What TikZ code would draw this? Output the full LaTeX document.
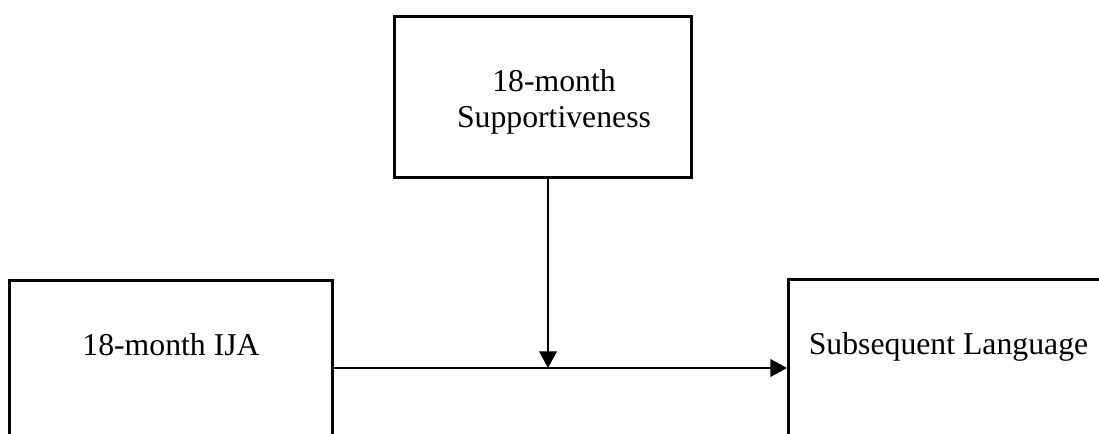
\documentclass[tikz,border=0pt]{standalone}
\usepackage{fontspec}
\setmainfont{Liberation Serif}
\usetikzlibrary{arrows.meta}
\begin{document}
\begin{tikzpicture}[x=0.75pt,y=-0.75pt,
  boxshape/.style={draw=black,line width=2.2pt,rectangle,inner sep=0pt,anchor=north west},
  lbl/.style={inner sep=0pt,anchor=base,font=\fontsize{23.8}{27}\selectfont},
  conn/.style={line width=2.2pt,-{Triangle[length=12.5pt,width=13pt]}}]
\useasboundingbox (0,0) rectangle (1099,434);
\clip (0,0) rectangle (1099,434);
% boxes
\node[boxshape,minimum width=297*0.75pt,minimum height=161*0.75pt] (sup) at (393,15) {};
\node[boxshape,minimum width=323*0.75pt,minimum height=200*0.75pt] (ija) at (8,279) {};
\node[boxshape,minimum width=340*0.75pt,minimum height=200*0.75pt] (lang) at (787,278) {};
% texts
\node[lbl] (supa) at (554,92) {18-month};
\node[lbl] (supb) at (554,128) {Supportiveness};
\node[lbl] (ijat) at (171,356) {18-month IJA};
\node[lbl] (langt) at (948.5,355) {Subsequent Language};
% connectors
\coordinate (supout) at (sup.south -| 548,0);
\coordinate (ijaout) at (ija.north east |- 0,368);
\coordinate (langin) at (lang.north west |- 0,368);
\coordinate (mid) at (548,368);
\draw[conn] (ijaout) -- (langin);
\draw[conn] (supout) -- (mid);
\end{tikzpicture}
\end{document}
